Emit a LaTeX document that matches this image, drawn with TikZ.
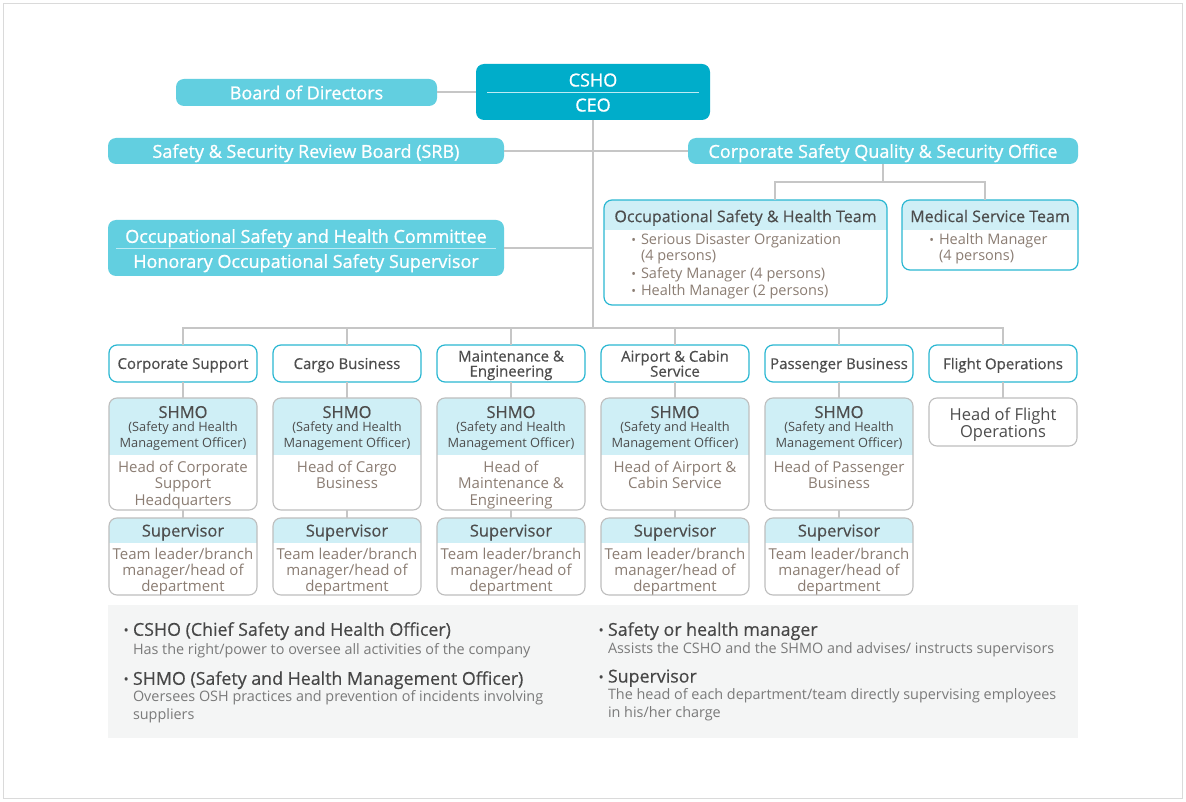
\documentclass[tikz,border=0pt]{standalone}
\usepackage{fontspec}
\setmainfont{Open Sans}
\newfontfamily\sbf[FakeBold=1]{Open Sans}
\newfontfamily\mdf[FakeBold=0.4]{Open Sans}
\usetikzlibrary{calc}
\definecolor{dcyan}{HTML}{00ADCA}
\definecolor{lcyan}{HTML}{62CFE0}
\definecolor{cyanb}{HTML}{2AB7D2}
\definecolor{hdrc}{HTML}{CFEFF6}
\definecolor{grayb}{HTML}{BEBEBE}
\definecolor{linec}{HTML}{C6C6C6}
\definecolor{tdark}{HTML}{4D4D4D}
\definecolor{taupe}{HTML}{8B7D73}
\definecolor{legbg}{HTML}{F4F5F5}
\definecolor{legh}{HTML}{474747}
\definecolor{legb}{HTML}{7A7A7A}
\definecolor{framec}{HTML}{DADADA}
\definecolor{divc}{HTML}{BDEBF4}
\newcommand\fsz[2]{\fontsize{#1}{#2}\selectfont}
\tikzset{
  conn/.style={draw=linec, line width=1.3pt},
  solidbox/.style={rectangle, rounded corners=8pt, inner sep=0pt, outer sep=0pt},
  unitbox/.style={solidbox, draw=cyanb, fill=white, line width=1.2pt, minimum width=148pt, minimum height=37pt},
  whitebox/.style={solidbox, fill=white, minimum width=148pt},
  grayborder/.style={draw=grayb, line width=1.1pt, rounded corners=8pt},
  cyanborder/.style={draw=cyanb, line width=1.2pt, rounded corners=8pt},
  txt/.style={inner sep=0pt, outer sep=0pt, align=center, text depth=0pt},
  wtxt/.style={txt, text=white},
  dtxt/.style={txt, text=tdark},
  ttxt/.style={txt, text=taupe},
  bul/.style={inner sep=0pt, outer sep=0pt, anchor=base east, font=\fsz{12.5}{12.5}},
}
% column macro: id, cx, unit text, body text
\newcommand\unitcol[4]{%
  \node[unitbox] (u#1) at (#2,363.5) {};
  \node[dtxt, font=\mdf\fsz{15}{15}] (ut#1) at (u#1.center) {#3};
  \node[whitebox, minimum height=112pt] (s#1) at (#2,454) {};
  \begin{scope}
    \clip[rounded corners=8pt] (s#1.north west) rectangle (s#1.south east);
    \fill[hdrc] (s#1.north west) rectangle ([yshift=-57pt]s#1.north east);
  \end{scope}
  \draw[grayborder] (s#1.north west) rectangle (s#1.south east);
  \node[dtxt, font=\mdf\fsz{16.5}{16}] (sh#1) at (#2,412) {SHMO};
  \node[dtxt, font=\fsz{12.8}{16}] (sp#1) at (#2,435) {(Safety and Health\\Management Officer)};
  \node[ttxt, font=\fsz{15}{16.3}, anchor=north] (sb#1) at (#2,461) {#4};
  \node[whitebox, minimum height=77pt] (v#1) at (#2,556.5) {};
  \begin{scope}
    \clip[rounded corners=8pt] (v#1.north west) rectangle (v#1.south east);
    \fill[hdrc] (v#1.north west) rectangle ([yshift=-25pt]v#1.north east);
  \end{scope}
  \draw[grayborder] (v#1.north west) rectangle (v#1.south east);
  \node[dtxt, font=\mdf\fsz{16.5}{16}] (vh#1) at (#2,530.5) {Supervisor};
  \node[ttxt, font=\fsz{15}{16.3}, anchor=north] (vb#1) at (#2,548) {Team leader/branch\\manager/head of\\department};
  \draw[conn] (u#1.south) -- (s#1.north);
  \draw[conn] (s#1.south) -- (v#1.north);
}
\begin{document}
\begin{tikzpicture}[x=1pt,y=-1pt]
\useasboundingbox (0,0) rectangle (1186,802);
\fill[white] (0,0) rectangle (1186,802);
\draw[framec, line width=1pt] (3.5,3.5) rectangle (1182.5,798.5);

% top boxes
\node[solidbox, fill=lcyan, minimum width=261pt, minimum height=27pt] (board) at (306.5,92.5) {};
\node[wtxt, font=\sbf\fsz{18}{18}] (boardt) at (306.5,92.5) {Board of Directors};
\node[solidbox, fill=dcyan, minimum width=234pt, minimum height=56pt] (csho) at (593,92) {};
\node[wtxt, font=\sbf\fsz{18}{18}] (cshot) at (593,80) {CSHO};
\node[wtxt, font=\sbf\fsz{18}{18}] (ceot) at (593,105) {CEO};
\draw[divc, line width=1pt] (487,93) -- (699,93);

\node[solidbox, fill=lcyan, minimum width=396pt, minimum height=26pt] (srb) at (306,151) {};
\node[wtxt, font=\sbf\fsz{18}{18}] (srbt) at (306,151) {Safety \& Security Review Board (SRB)};
\node[solidbox, fill=lcyan, minimum width=390pt, minimum height=26pt] (csq) at (883,151) {};
\node[wtxt, font=\sbf\fsz{18}{18}] (csqt) at (883,151) {Corporate Safety Quality \& Security Office};

\node[solidbox, fill=lcyan, minimum width=396pt, minimum height=56pt] (comm) at (306,248) {};
\node[wtxt, font=\sbf\fsz{18}{18}] (commt1) at (306,236) {Occupational Safety and Health Committee};
\node[wtxt, font=\sbf\fsz{18}{18}] (commt2) at (306,261) {Honorary Occupational Safety Supervisor};
\draw[divc, line width=1pt] (116,248.5) -- (496,248.5);

% OSH team
\node[solidbox, fill=white, minimum width=283pt, minimum height=105pt] (osh) at (745.5,252.5) {};
\begin{scope}
  \clip[rounded corners=8pt] (osh.north west) rectangle (osh.south east);
  \fill[hdrc] (osh.north west) rectangle ([yshift=-30pt]osh.north east);
\end{scope}
\draw[cyanborder] (osh.north west) rectangle (osh.south east);
\node[dtxt, font=\mdf\fsz{16}{16}] (osht) at (745.5,216) {Occupational Safety \& Health Team};
\foreach \yy/\tt [count=\i] in {239/Serious Disaster Organization, 273/Safety Manager (4 persons), 290/Health Manager (2 persons)}{
  \node[ttxt, font=\fsz{14.5}{14.5}, anchor=west] (ol\i) at (641,\yy) {\tt};
  \node[bul, text=taupe] (ob\i) at ([xshift=-5pt]ol\i.base west) {•};
}
\node[ttxt, font=\fsz{14.5}{14.5}, anchor=west] (ol4) at (641,255) {(4 persons)};

% Medical team
\node[solidbox, fill=white, minimum width=176pt, minimum height=70pt] (med) at (990,235) {};
\begin{scope}
  \clip[rounded corners=8pt] (med.north west) rectangle (med.south east);
  \fill[hdrc] (med.north west) rectangle ([yshift=-30pt]med.north east);
\end{scope}
\draw[cyanborder] (med.north west) rectangle (med.south east);
\node[dtxt, font=\mdf\fsz{16}{16}] (medt) at (990,216) {Medical Service Team};
\node[ttxt, font=\fsz{14.5}{14.5}, anchor=west] (ml1) at (939,239) {Health Manager};
\node[bul, text=taupe] (mb1) at ([xshift=-5pt]ml1.base west) {•};
\node[ttxt, font=\fsz{14.5}{14.5}, anchor=west] (ml2) at (939,255) {(4 persons)};

% columns
\unitcol{1}{183}{Corporate Support}{Head of Corporate\\Support\\Headquarters}
\unitcol{2}{347}{Cargo Business}{Head of Cargo\\Business}
\unitcol{3}{511}{Maintenance \&\\Engineering}{Head of\\Maintenance \&\\Engineering}
\unitcol{4}{675}{Airport \& Cabin\\Service}{Head of Airport \&\\Cabin Service}
\unitcol{5}{839}{Passenger Business}{Head of Passenger\\Business}

\node[unitbox] (u6) at (1003,363.5) {};
\node[dtxt, font=\mdf\fsz{15}{15}] (ut6) at (u6.center) {Flight Operations};
\node[solidbox, fill=white, draw=grayb, line width=1.1pt, minimum width=148pt, minimum height=48pt] (h6) at (1003,422) {};
\node[dtxt, font=\fsz{16.5}{17}] (h6t) at (1003,422.5) {Head of Flight\\Operations};
\draw[conn] (u6.south) -- (h6.north);

% connectors
\coordinate (bus) at (593,328);
\coordinate (cj) at (883,182);
\coordinate (dl) at (775,182);
\coordinate (dr) at (985,182);
\draw[conn] (board.east |- csho.west) -- (csho.west);
\draw[conn] (csho.south) -- (bus);
\draw[conn] (srb.east) -- (csq.west);
\draw[conn] (comm.east) -- (comm.east -| csho.south);
\draw[conn] (csq.south) -- (cj);
\draw[conn] (dl |- osh.north) -- (dl) -- (dr) -- (dr |- med.north);
\draw[conn] (u1.north) -- ++(0,-17) -| (u6.north);
\foreach \k in {2,3,4,5}{\draw[conn] (u\k.north) -- ++(0,-17);}

% legend
\node[rectangle, fill=legbg, inner sep=0pt, minimum width=970pt, minimum height=133pt] (leg) at (593,671.5) {};
\node[txt, text=legh, font=\mdf\fsz{17.8}{17.8}, anchor=west] (lh1) at (133,629) {CSHO (Chief Safety and Health Officer)};
\node[bul, text=legh, font=\fsz{14}{14}] (lb1) at ([xshift=-4pt]lh1.base west) {•};
\node[txt, text=legb, font=\fsz{14.4}{18}, anchor=west] (lt1) at (133,649) {Has the right/power to oversee all activities of the company};
\node[txt, text=legh, font=\mdf\fsz{17.8}{17.8}, anchor=west] (lh2) at (133,678) {SHMO (Safety and Health Management Officer)};
\node[bul, text=legh, font=\fsz{14}{14}] (lb2) at ([xshift=-4pt]lh2.base west) {•};
\node[txt, text=legb, font=\fsz{14.4}{18}, anchor=north west, align=left] (lt2) at (133,690.5) {Oversees OSH practices and prevention of incidents involving\\suppliers};
\node[txt, text=legh, font=\mdf\fsz{17.8}{17.8}, anchor=west] (lh3) at (608,629) {Safety or health manager};
\node[bul, text=legh, font=\fsz{14}{14}] (lb3) at ([xshift=-4pt]lh3.base west) {•};
\node[txt, text=legb, font=\fsz{14.4}{18}, anchor=west] (lt3) at (608,648) {Assists the CSHO and the SHMO and advises/ instructs supervisors};
\node[txt, text=legh, font=\mdf\fsz{17.8}{17.8}, anchor=west] (lh4) at (608,676) {Supervisor};
\node[bul, text=legh, font=\fsz{14}{14}] (lb4) at ([xshift=-4pt]lh4.base west) {•};
\node[txt, text=legb, font=\fsz{14.4}{18}, anchor=north west, align=left] (lt4) at (608,688.5) {The head of each department/team directly supervising employees\\in his/her charge};
\end{tikzpicture}
\end{document}
